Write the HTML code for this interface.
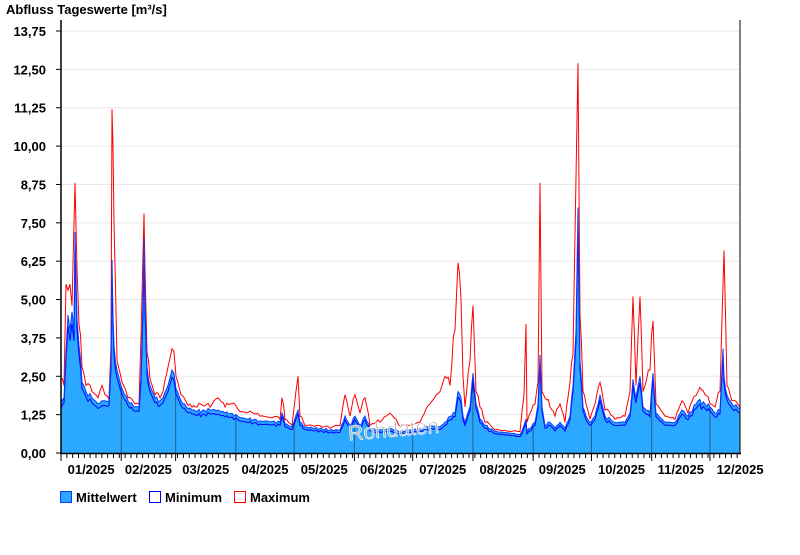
<!DOCTYPE html>
<html><head><meta charset="utf-8"><style>
body{margin:0;background:#fff;width:800px;height:550px;overflow:hidden}
svg text{font-family:"Liberation Sans",Arial,sans-serif;font-weight:bold;font-size:13px;fill:#000}
</style></head><body>
<svg id="s" width="800" height="550" xmlns="http://www.w3.org/2000/svg"></svg>
<script>
const K=[[61,1.6,2.4],[64,1.8,2.2],[66,3.3,5.5],[68,4.5,5.3],[70,4.0,5.5],[72,4.6,4.8],[74,4.0,7.5],[75,7.2,8.8],[77,4.4,6.0],[79,3.5,4.2],[82,2.3,2.8],[86,2.0,2.2],[92,1.8,2.0],[98,1.6,1.8],[102,1.7,2.2],[105,1.7,1.9],[109,1.7,1.75],[111,3.0,3.5],[112,6.3,11.2],[113,4.5,10.0],[114,3.5,7.5],[117,2.7,3.0],[122,2.1,2.3],[128,1.7,1.8],[135,1.5,1.6],[139,1.5,1.6],[141,2.5,3.8],[143,5.0,6.5],[144,7.0,7.8],[145,5.0,6.0],[147,2.8,3.3],[150,2.2,2.4],[155,1.8,1.9],[160,1.7,1.8],[163,1.8,2.0],[168,2.2,2.8],[172,2.7,3.4],[174,2.6,3.3],[176,2.1,2.5],[181,1.7,1.9],[188,1.45,1.55],[192,1.4,1.5],[197,1.35,1.5],[210,1.4,1.5],[218,1.4,1.8],[225,1.3,1.5],[232,1.3,1.6],[240,1.15,1.35],[260,1.05,1.2],[280,1.0,1.1],[282,1.3,1.8],[285,0.95,1.1],[292,0.85,0.9],[298,1.4,2.5],[300,1.0,1.2],[305,0.85,0.9],[330,0.75,0.8],[340,0.75,0.9],[345,1.2,1.9],[350,0.9,1.2],[355,1.2,1.9],[360,0.9,1.3],[365,1.2,1.8],[370,0.8,0.9],[380,0.75,1.0],[390,0.8,1.3],[400,0.7,0.85],[410,0.75,0.9],[420,0.8,1.0],[430,0.9,1.6],[440,0.85,2.0],[445,1.0,2.5],[450,1.2,2.2],[455,1.3,4.0],[458,2.0,6.2],[461,1.8,5.0],[463,1.2,2.5],[465,1.0,1.5],[470,1.5,3.0],[473,2.6,4.8],[476,1.6,2.0],[480,1.1,1.5],[485,0.9,1.0],[495,0.7,0.75],[510,0.65,0.7],[520,0.6,0.7],[524,0.9,1.9],[526,1.1,4.2],[527,0.7,1.0],[535,1.0,1.6],[538,1.6,2.3],[540,3.2,8.8],[542,1.5,2.0],[545,0.9,1.8],[550,1.0,1.5],[555,0.8,1.2],[560,1.0,1.6],[565,0.8,1.0],[570,1.2,2.3],[573,2.2,3.2],[576,4.0,9.0],[578,8.0,12.7],[580,3.0,4.5],[583,1.5,2.0],[586,1.2,1.6],[590,1.0,1.1],[595,1.2,1.6],[600,1.9,2.3],[605,1.2,1.4],[615,1.0,1.1],[625,1.0,1.2],[630,1.3,2.0],[633,2.4,5.1],[636,1.8,2.2],[640,2.5,5.1],[643,1.5,2.0],[650,1.3,2.7],[653,2.6,4.3],[656,1.3,1.6],[665,1.0,1.2],[675,1.0,1.1],[682,1.4,1.7],[688,1.2,1.3],[698,1.7,2.0],[705,1.6,1.9],[710,1.5,1.6],[715,1.3,1.5],[720,1.4,2.0],[723,3.4,5.5],[724,2.5,6.6],[727,1.9,2.2],[732,1.6,1.7],[740,1.45,1.5]];
// densify with small wiggle
const P=[];
for(let i=0;i<K.length-1;i++){const a=K[i],b=K[i+1];const n=Math.max(1,Math.round((b[0]-a[0])/2));
 for(let j=0;j<n;j++){const t=j/n,x=a[0]+(b[0]-a[0])*t;const w=(j>0)?Math.sin(x*1.7)*Math.sin(x*0.37):0;
  const m=a[1]+(b[1]-a[1])*t, M=a[2]+(b[2]-a[2])*t;
  P.push([x,m*(1+0.05*w),M*(1+0.08*Math.abs(w))+ (M-m)*0.1*w]);}}
P.push(K[K.length-1]);
const Y=v=>453-v*30.69;
let h='';
for(let i=0;i<=11;i++){const y=Y(i*1.25);
 if(i>0)h+=`<line x1="61" x2="740" y1="${y}" y2="${y}" stroke="#e8e8e8"/>`;
 h+=`<line x1="56" x2="61" y1="${y}" y2="${y}" stroke="#000"/><text x="46" y="${y+5}" text-anchor="end">${(i*1.25).toFixed(2).replace('.',',')}</text>`;}
let mean=P.map(k=>k[0].toFixed(1)+','+Y(k[1]).toFixed(1)).join(' ');
let mx=P.map(k=>k[0].toFixed(1)+','+Y(Math.max(k[2],k[1]*1.03)).toFixed(1)).join(' ');
let mn=P.map(k=>k[0].toFixed(1)+','+Y(k[1]*0.92-0.02).toFixed(1)).join(' ');
h+=`<defs><clipPath id="c"><polygon points="61,453 ${mean} 740,453"/></clipPath></defs>`;
h+=`<polygon points="61,453 ${mean} 740,453" fill="#2ba8ff"/>`;
const S=1.943;
const md=[0,31,59,90,120,151,181,212,243,273,304,334,365],lab=['01','02','03','04','05','06','07','08','09','10','11','12'];
let g='';
for(let i=1;i<12;i++){const x=61+md[i]*S;g+=`<line x1="${x}" x2="${x}" y1="20" y2="453" stroke="#2a5f86"/>`;}
h+=`<g clip-path="url(#c)">${g}</g>`;
h+=`<polyline points="${mx}" fill="none" stroke="#f00" stroke-width="1"/>`;
h+=`<polyline points="${mn}" fill="none" stroke="#00f" stroke-width="1"/>`;
h+=`<polyline points="${mean}" fill="none" stroke="#0a3cff" stroke-width="1"/>`;
h+=`<text x="348" y="436" style="font-size:21px;font-weight:normal;fill:#aaa;stroke:#fff;stroke-width:0.8;opacity:0.85" transform="rotate(-5 400 430)">Rohdaten</text>`;
for(let d=0;d*S<=679;d+=3){const x=61+d*S;h+=`<line x1="${x}" x2="${x}" y1="453" y2="458" stroke="#000"/>`;}
for(let i=0;i<12;i++){const x=61+md[i]*S;h+=`<line x1="${x}" x2="${x}" y1="453" y2="461" stroke="#000"/>`;
 h+=`<text x="${61+(md[i]+md[i+1])/2*S}" y="474" text-anchor="middle">${lab[i]}/2025</text>`;}
h+=`<line x1="61" x2="61" y1="20" y2="454" stroke="#000" stroke-width="1.5"/><line x1="60" x2="741" y1="453.5" y2="453.5" stroke="#000" stroke-width="1.5"/><line x1="740" x2="740" y1="20" y2="454" stroke="#000"/>`;
h+=`<text x="6" y="14">Abfluss Tageswerte [m³/s]</text>`;
h+=`<rect x="60.5" y="491.5" width="11" height="11" fill="#2ba8ff" stroke="#0a3cff"/><text x="76" y="502">Mittelwert</text>`;
h+=`<rect x="149.5" y="491.5" width="11" height="11" fill="#fff" stroke="#00f"/><text x="165" y="502">Minimum</text>`;
h+=`<rect x="234.5" y="491.5" width="11" height="11" fill="#fff" stroke="#f00"/><text x="250" y="502">Maximum</text>`;
document.getElementById('s').innerHTML=h;
</script>
</body></html>
